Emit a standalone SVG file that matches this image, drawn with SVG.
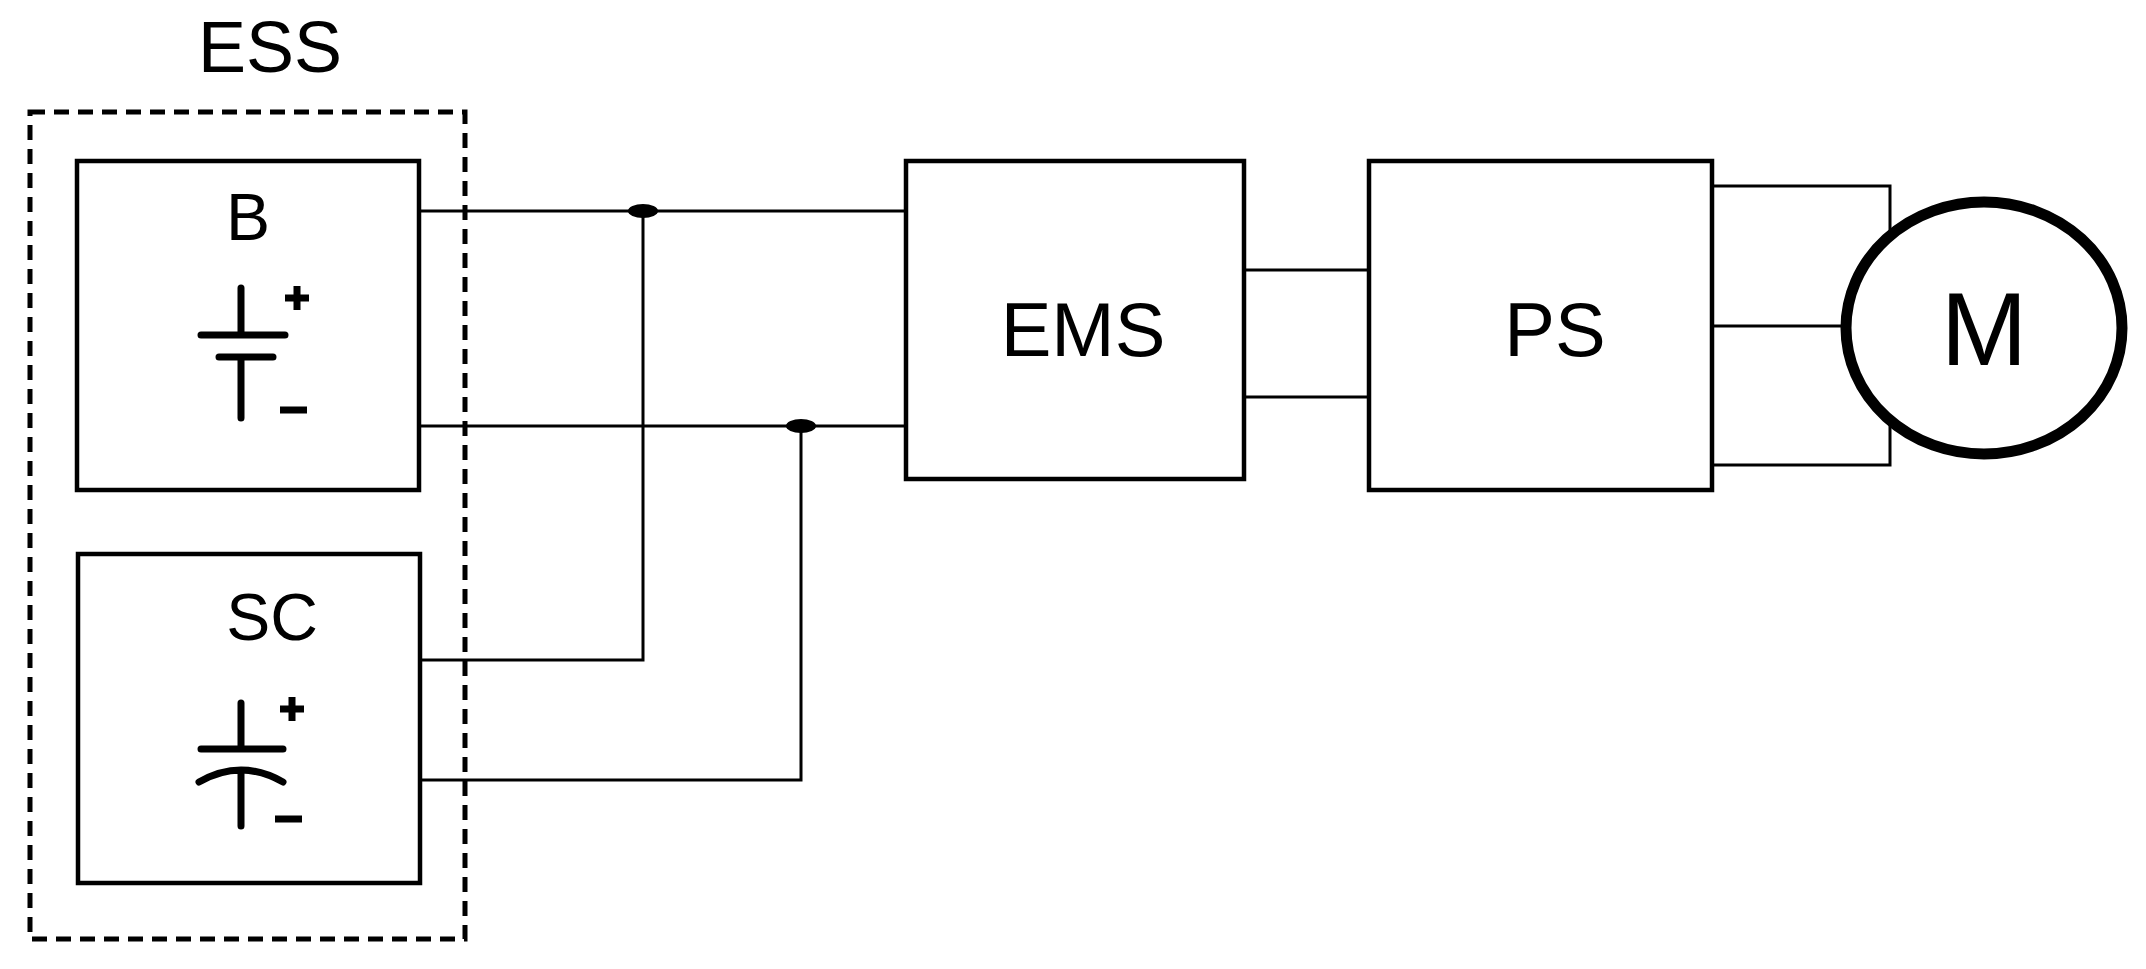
<svg xmlns="http://www.w3.org/2000/svg" width="2146" height="969" viewBox="0 0 2146 969">
<style>
.box{fill:#fff;stroke:#000;stroke-width:4.5}
.w{fill:none;stroke:#000;stroke-width:3}
.sym{fill:none;stroke:#000;stroke-width:7;stroke-linecap:round}
.pm{fill:none;stroke:#000;stroke-width:7}
text{font-family:"Liberation Sans",Arial,sans-serif;fill:#000;text-anchor:middle}
</style>
<rect width="2146" height="969" fill="#fff"/>
<g id="connectors">
<path class="w" d="M419 211H906M419 426H906M643 211V660H420M801 426V780H420"/>
<ellipse cx="643" cy="211" rx="15" ry="7"/>
<ellipse cx="801" cy="426" rx="15" ry="7"/>
<path class="w" d="M1244 270H1369M1244 397H1369"/>
<path class="w" d="M1712 186H1890V245M1712 326H1846M1712 465H1890V410"/>
</g>
<g id="ess">
<rect x="30" y="112" width="435" height="827" fill="none" stroke="#000" stroke-width="5" stroke-dasharray="15,9"/>
<text x="270" y="72" font-size="72">ESS</text>
</g>
<g id="b">
<rect class="box" x="77" y="161" width="342" height="329"/>
<text x="248" y="240" font-size="66">B</text>
<path class="sym" d="M241 288V335M201 335H285M219 357H273M241 357V418"/>
<path class="pm" d="M285 298H309M297 286V310M280 410H307"/>
</g>
<g id="sc">
<rect class="box" x="78" y="554" width="342" height="329"/>
<text x="272" y="640" font-size="66">SC</text>
<path class="sym" d="M241 703V749M201 749H283M199 782Q241 758 283 782M241 770V826"/>
<path class="pm" d="M280 709H304M292 697V721M275 819H302"/>
</g>
<g id="ems">
<rect class="box" x="906" y="161" width="338" height="318"/>
<text x="1083" y="356" font-size="76">EMS</text>
</g>
<g id="ps">
<rect class="box" x="1369" y="161" width="343" height="329"/>
<text x="1555" y="356" font-size="76">PS</text>
</g>
<g id="motor">
<ellipse cx="1984" cy="328" rx="138" ry="126" fill="#fff" stroke="#000" stroke-width="11"/>
<text x="1984" y="365" font-size="104">M</text>
</g>
</svg>
